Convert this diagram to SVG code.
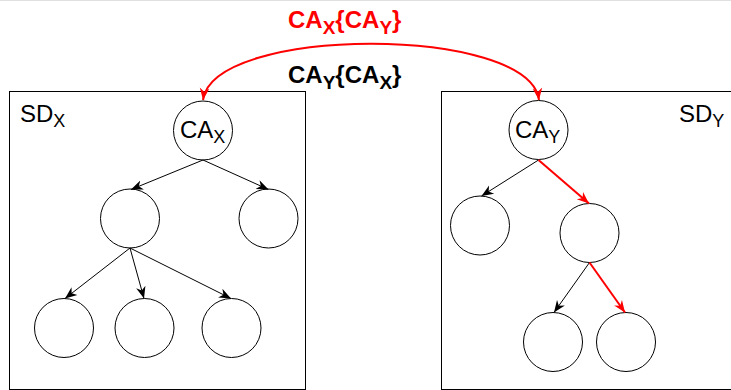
<svg xmlns="http://www.w3.org/2000/svg" width="731" height="390" viewBox="0 0 731 390">
  <style>
    .box { fill: none; stroke: #000; stroke-width: 1; }
    .node { fill: #fff; stroke: #000; stroke-width: 1; }
    .lbl { font-family: "Liberation Sans", Arial, sans-serif; fill: #000; }
    .big { font-family: "Liberation Sans", Arial, sans-serif; font-weight: bold; }
    .edge { fill: none; stroke: #000; stroke-width: 1; }
    .hot { fill: none; stroke: #ff0000; stroke-width: 2; }
  </style>
  <defs>
    <marker id="arrow" markerUnits="userSpaceOnUse" markerWidth="12" markerHeight="12" viewBox="0 0 10 8" refX="10" refY="4" orient="auto">
      <path d="M0,0 L10,4 L0,8 L3,4 z" fill="#000"/>
    </marker>
    <marker id="arrowRed" markerUnits="userSpaceOnUse" markerWidth="12" markerHeight="12" viewBox="0 0 10 8" refX="10" refY="4" orient="auto-start-reverse">
      <path d="M0,0 L10,4 L0,8 L3,4 z" fill="#ff0000"/>
    </marker>
  </defs>

  <rect width="731" height="390" fill="#fff"/>
  <line x1="0" y1="0.5" x2="731" y2="0.5" stroke="#e0e0e0" stroke-width="1"/>

  <!-- security domains -->
  <g id="sdx">
    <rect class="box" x="9.5" y="91.5" width="296" height="298"/>
    <text class="lbl" x="20" y="122" font-size="24">SD<tspan font-size="18" dy="5">X</tspan></text>
  </g>
  <g id="sdy">
    <rect class="box" x="441.5" y="91.5" width="300" height="298"/>
    <text class="lbl" x="679" y="122" font-size="24">SD<tspan font-size="18" dy="5">Y</tspan></text>
  </g>

  <!-- tree X -->
  <g id="cax">
    <circle class="node" cx="203" cy="130.5" r="29.5"/>
    <text class="lbl" x="180" y="138" font-size="24">CA<tspan font-size="18" dy="5">X</tspan></text>
  </g>
  <g id="x1"><circle class="node" cx="130" cy="218.5" r="29.5"/></g>
  <g id="x2"><circle class="node" cx="268.5" cy="218.5" r="29.5"/></g>
  <g id="x3"><circle class="node" cx="64" cy="328" r="29.5"/></g>
  <g id="x4"><circle class="node" cx="144.5" cy="328" r="29.5"/></g>
  <g id="x5"><circle class="node" cx="231.5" cy="328" r="29.5"/></g>

  <!-- tree Y -->
  <g id="cay">
    <circle class="node" cx="538.5" cy="130" r="29.5"/>
    <text class="lbl" x="515" y="138" font-size="24">CA<tspan font-size="18" dy="5">Y</tspan></text>
  </g>
  <g id="y1"><circle class="node" cx="480" cy="225.5" r="29.5"/></g>
  <g id="y2"><circle class="node" cx="589.5" cy="233" r="29.5"/></g>
  <g id="y3"><circle class="node" cx="553" cy="342" r="29.5"/></g>
  <g id="y4"><circle class="node" cx="626" cy="342" r="29.5"/></g>

  <!-- cross-certification labels -->
  <text class="big" x="288" y="28" font-size="24" fill="#ff0000">CA<tspan font-size="19" dy="6">X</tspan><tspan dy="-6">{CA</tspan><tspan font-size="19" dy="6">Y</tspan><tspan dy="-6">}</tspan></text>
  <text class="big" x="288" y="83" font-size="24" fill="#000">CA<tspan font-size="19" dy="6">Y</tspan><tspan dy="-6">{CA</tspan><tspan font-size="19" dy="6">X</tspan><tspan dy="-6">}</tspan></text>

  <g id="connectors">
    <path class="hot" d="M203,100 C213,25 529,25 539,100" marker-start="url(#arrowRed)" marker-end="url(#arrowRed)"/>

    <line class="edge" x1="203" y1="160" x2="131" y2="189.5" marker-end="url(#arrow)"/>
    <line class="edge" x1="203" y1="160" x2="268.5" y2="189.5" marker-end="url(#arrow)"/>
    <line class="edge" x1="130" y1="248" x2="65" y2="298.5" marker-end="url(#arrow)"/>
    <line class="edge" x1="130" y1="248" x2="144" y2="298.5" marker-end="url(#arrow)"/>
    <line class="edge" x1="130" y1="248" x2="231" y2="298.5" marker-end="url(#arrow)"/>

    <line class="edge" x1="538.5" y1="160" x2="481.5" y2="196" marker-end="url(#arrow)"/>
    <line class="hot" x1="538.5" y1="160" x2="589" y2="203.5" marker-end="url(#arrowRed)"/>
    <line class="edge" x1="589.5" y1="262.5" x2="554" y2="312.5" marker-end="url(#arrow)"/>
    <line class="hot" x1="589.5" y1="262.5" x2="625" y2="312.5" marker-end="url(#arrowRed)"/>
  </g>
</svg>
